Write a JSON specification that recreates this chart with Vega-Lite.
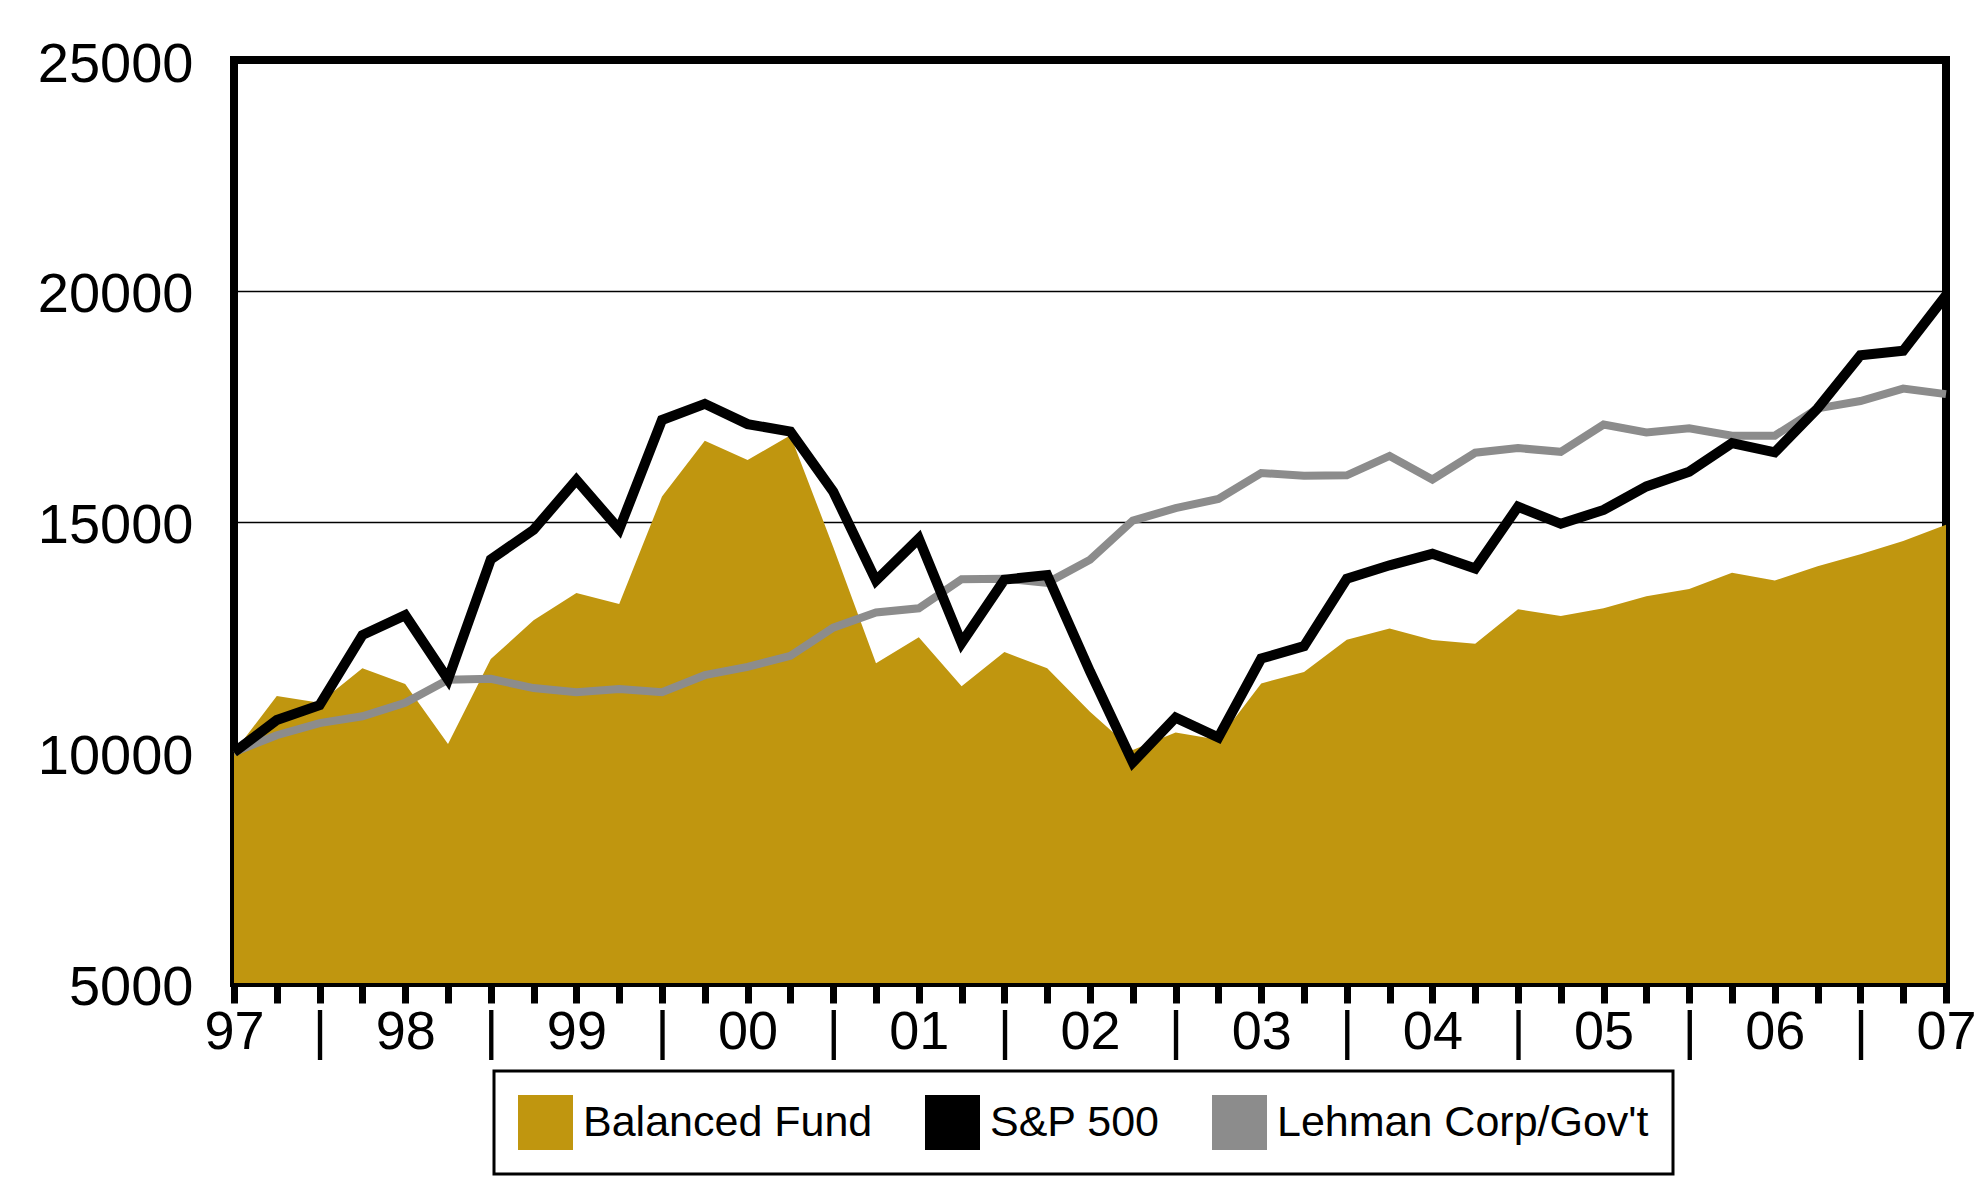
{
  "$schema": "https://vega.github.io/schema/vega-lite/v6.json",
  "width": 1712,
  "height": 923,
  "autosize": "none",
  "padding": {"left": 234, "top": 60, "right": 37, "bottom": 217},
  "background": "white",
  "config": {
    "view": {"stroke": "black", "strokeWidth": 8},
    "font": "Liberation Sans"
  },
  "data": {
    "values": [
      {"q":0,"series":"Balanced Fund","value":10000},{"q":1,"series":"Balanced Fund","value":11220},{"q":2,"series":"Balanced Fund","value":11070},{"q":3,"series":"Balanced Fund","value":11820},{"q":4,"series":"Balanced Fund","value":11480},{"q":5,"series":"Balanced Fund","value":10180},{"q":6,"series":"Balanced Fund","value":12020},{"q":7,"series":"Balanced Fund","value":12860},{"q":8,"series":"Balanced Fund","value":13450},{"q":9,"series":"Balanced Fund","value":13210},{"q":10,"series":"Balanced Fund","value":15540},{"q":11,"series":"Balanced Fund","value":16750},{"q":12,"series":"Balanced Fund","value":16330},{"q":13,"series":"Balanced Fund","value":16870},{"q":14,"series":"Balanced Fund","value":14450},{"q":15,"series":"Balanced Fund","value":11930},{"q":16,"series":"Balanced Fund","value":12490},{"q":17,"series":"Balanced Fund","value":11430},{"q":18,"series":"Balanced Fund","value":12170},{"q":19,"series":"Balanced Fund","value":11820},{"q":20,"series":"Balanced Fund","value":10880},{"q":21,"series":"Balanced Fund","value":10050},{"q":22,"series":"Balanced Fund","value":10430},{"q":23,"series":"Balanced Fund","value":10270},{"q":24,"series":"Balanced Fund","value":11490},{"q":25,"series":"Balanced Fund","value":11740},{"q":26,"series":"Balanced Fund","value":12440},{"q":27,"series":"Balanced Fund","value":12680},{"q":28,"series":"Balanced Fund","value":12430},{"q":29,"series":"Balanced Fund","value":12350},{"q":30,"series":"Balanced Fund","value":13100},{"q":31,"series":"Balanced Fund","value":12950},{"q":32,"series":"Balanced Fund","value":13120},{"q":33,"series":"Balanced Fund","value":13380},{"q":34,"series":"Balanced Fund","value":13540},{"q":35,"series":"Balanced Fund","value":13890},{"q":36,"series":"Balanced Fund","value":13720},{"q":37,"series":"Balanced Fund","value":14030},{"q":38,"series":"Balanced Fund","value":14290},{"q":39,"series":"Balanced Fund","value":14580},{"q":40,"series":"Balanced Fund","value":14930},
      {"q":0,"series":"S&P 500","value":10000},{"q":1,"series":"S&P 500","value":10700},{"q":2,"series":"S&P 500","value":11020},{"q":3,"series":"S&P 500","value":12540},{"q":4,"series":"S&P 500","value":12970},{"q":5,"series":"S&P 500","value":11580},{"q":6,"series":"S&P 500","value":14180},{"q":7,"series":"S&P 500","value":14820},{"q":8,"series":"S&P 500","value":15900},{"q":9,"series":"S&P 500","value":14830},{"q":10,"series":"S&P 500","value":17200},{"q":11,"series":"S&P 500","value":17550},{"q":12,"series":"S&P 500","value":17110},{"q":13,"series":"S&P 500","value":16950},{"q":14,"series":"S&P 500","value":15650},{"q":15,"series":"S&P 500","value":13720},{"q":16,"series":"S&P 500","value":14630},{"q":17,"series":"S&P 500","value":12370},{"q":18,"series":"S&P 500","value":13740},{"q":19,"series":"S&P 500","value":13840},{"q":20,"series":"S&P 500","value":11750},{"q":21,"series":"S&P 500","value":9780},{"q":22,"series":"S&P 500","value":10750},{"q":23,"series":"S&P 500","value":10320},{"q":24,"series":"S&P 500","value":12030},{"q":25,"series":"S&P 500","value":12300},{"q":26,"series":"S&P 500","value":13760},{"q":27,"series":"S&P 500","value":14050},{"q":28,"series":"S&P 500","value":14300},{"q":29,"series":"S&P 500","value":13980},{"q":30,"series":"S&P 500","value":15320},{"q":31,"series":"S&P 500","value":14950},{"q":32,"series":"S&P 500","value":15250},{"q":33,"series":"S&P 500","value":15760},{"q":34,"series":"S&P 500","value":16080},{"q":35,"series":"S&P 500","value":16700},{"q":36,"series":"S&P 500","value":16500},{"q":37,"series":"S&P 500","value":17450},{"q":38,"series":"S&P 500","value":18600},{"q":39,"series":"S&P 500","value":18700},{"q":40,"series":"S&P 500","value":19900},
      {"q":0,"series":"Lehman Corp/Gov't","value":10000},{"q":1,"series":"Lehman Corp/Gov't","value":10370},{"q":2,"series":"Lehman Corp/Gov't","value":10630},{"q":3,"series":"Lehman Corp/Gov't","value":10780},{"q":4,"series":"Lehman Corp/Gov't","value":11070},{"q":5,"series":"Lehman Corp/Gov't","value":11570},{"q":6,"series":"Lehman Corp/Gov't","value":11590},{"q":7,"series":"Lehman Corp/Gov't","value":11390},{"q":8,"series":"Lehman Corp/Gov't","value":11300},{"q":9,"series":"Lehman Corp/Gov't","value":11370},{"q":10,"series":"Lehman Corp/Gov't","value":11300},{"q":11,"series":"Lehman Corp/Gov't","value":11670},{"q":12,"series":"Lehman Corp/Gov't","value":11850},{"q":13,"series":"Lehman Corp/Gov't","value":12090},{"q":14,"series":"Lehman Corp/Gov't","value":12700},{"q":15,"series":"Lehman Corp/Gov't","value":13030},{"q":16,"series":"Lehman Corp/Gov't","value":13120},{"q":17,"series":"Lehman Corp/Gov't","value":13750},{"q":18,"series":"Lehman Corp/Gov't","value":13760},{"q":19,"series":"Lehman Corp/Gov't","value":13670},{"q":20,"series":"Lehman Corp/Gov't","value":14170},{"q":21,"series":"Lehman Corp/Gov't","value":15020},{"q":22,"series":"Lehman Corp/Gov't","value":15290},{"q":23,"series":"Lehman Corp/Gov't","value":15490},{"q":24,"series":"Lehman Corp/Gov't","value":16050},{"q":25,"series":"Lehman Corp/Gov't","value":15990},{"q":26,"series":"Lehman Corp/Gov't","value":16000},{"q":27,"series":"Lehman Corp/Gov't","value":16420},{"q":28,"series":"Lehman Corp/Gov't","value":15910},{"q":29,"series":"Lehman Corp/Gov't","value":16490},{"q":30,"series":"Lehman Corp/Gov't","value":16590},{"q":31,"series":"Lehman Corp/Gov't","value":16510},{"q":32,"series":"Lehman Corp/Gov't","value":17100},{"q":33,"series":"Lehman Corp/Gov't","value":16930},{"q":34,"series":"Lehman Corp/Gov't","value":17020},{"q":35,"series":"Lehman Corp/Gov't","value":16860},{"q":36,"series":"Lehman Corp/Gov't","value":16860},{"q":37,"series":"Lehman Corp/Gov't","value":17450},{"q":38,"series":"Lehman Corp/Gov't","value":17610},{"q":39,"series":"Lehman Corp/Gov't","value":17880},{"q":40,"series":"Lehman Corp/Gov't","value":17760}
    ]
  },
  "encoding": {
    "x": {
      "field": "q",
      "type": "quantitative",
      "scale": {"domain": [0, 40], "nice": false, "zero": false},
      "axis": {
        "title": null,
        "values": [0,1,2,3,4,5,6,7,8,9,10,11,12,13,14,15,16,17,18,19,20,21,22,23,24,25,26,27,28,29,30,31,32,33,34,35,36,37,38,39,40],
        "labelExpr": "datum.value % 4 == 0 ? slice('0' + ((97 + datum.value / 4) % 100), -2) : (datum.value % 2 == 0 ? '|' : '')",
        "domain": false,
        "grid": false,
        "ticks": true,
        "tickSize": 20,
        "tickWidth": 7,
        "tickColor": "black",
        "labelFontSize": 54,
        "labelColor": "black",
        "labelPadding": 2,
        "labelOverlap": false,
        "labelFlush": false,
        "labelBound": false
      }
    },
    "y": {
      "field": "value",
      "type": "quantitative",
      "scale": {"domain": [5000, 25000], "nice": false, "zero": false},
      "axis": {
        "title": null,
        "values": [5000, 10000, 15000, 20000, 25000],
        "format": "d",
        "grid": true,
        "gridColor": "black",
        "gridWidth": 1.5,
        "gridOpacity": 1,
        "ticks": false,
        "tickSize": 0,
        "domain": false,
        "labelFontSize": 56,
        "labelColor": "black",
        "labelPadding": 41,
        "labelOffset": 4,
        "labelOverlap": false,
        "labelFlush": false,
        "labelBound": false
      }
    },
    "color": {
      "field": "series",
      "type": "nominal",
      "scale": {
        "domain": ["Balanced Fund", "S&P 500", "Lehman Corp/Gov't"],
        "range": ["#C0960F", "#000000", "#8C8C8C"]
      },
      "legend": {
        "orient": "none",
        "legendX": 260,
        "legendY": 1011,
        "direction": "horizontal",
        "title": null,
        "symbolType": "square",
        "symbolSize": 3025,
        "symbolStrokeWidth": 0,
        "labelFontSize": 43,
        "labelColor": "black",
        "labelLimit": 600,
        "labelOffset": 10,
        "columnPadding": 52,
        "padding": 24,
        "strokeColor": "black",
        "fillColor": "white",
        "encode": {
          "symbols": {"update": {"fill": {"scale": "color", "field": "value"}, "fillOpacity": {"value": 1}, "strokeWidth": {"value": 0}}},
          "legend": {"update": {"strokeWidth": {"value": 3}}}
        }
      }
    }
  },
  "layer": [
    {
      "transform": [{"filter": "datum.series == 'Balanced Fund'"}],
      "mark": {"type": "area", "opacity": 1},
      "encoding": {"y2": {"datum": 5000}}
    },
    {
      "transform": [{"filter": "datum.series == \"Lehman Corp/Gov't\""}],
      "mark": {"type": "line", "strokeJoin": "miter", "strokeWidth": 8},
      "encoding": {"order": {"field": "q", "type": "quantitative"}}
    },
    {
      "transform": [{"filter": "datum.series == 'S&P 500'"}],
      "mark": {"type": "line", "strokeJoin": "miter", "strokeWidth": 10},
      "encoding": {"order": {"field": "q", "type": "quantitative"}}
    }
  ]
}
